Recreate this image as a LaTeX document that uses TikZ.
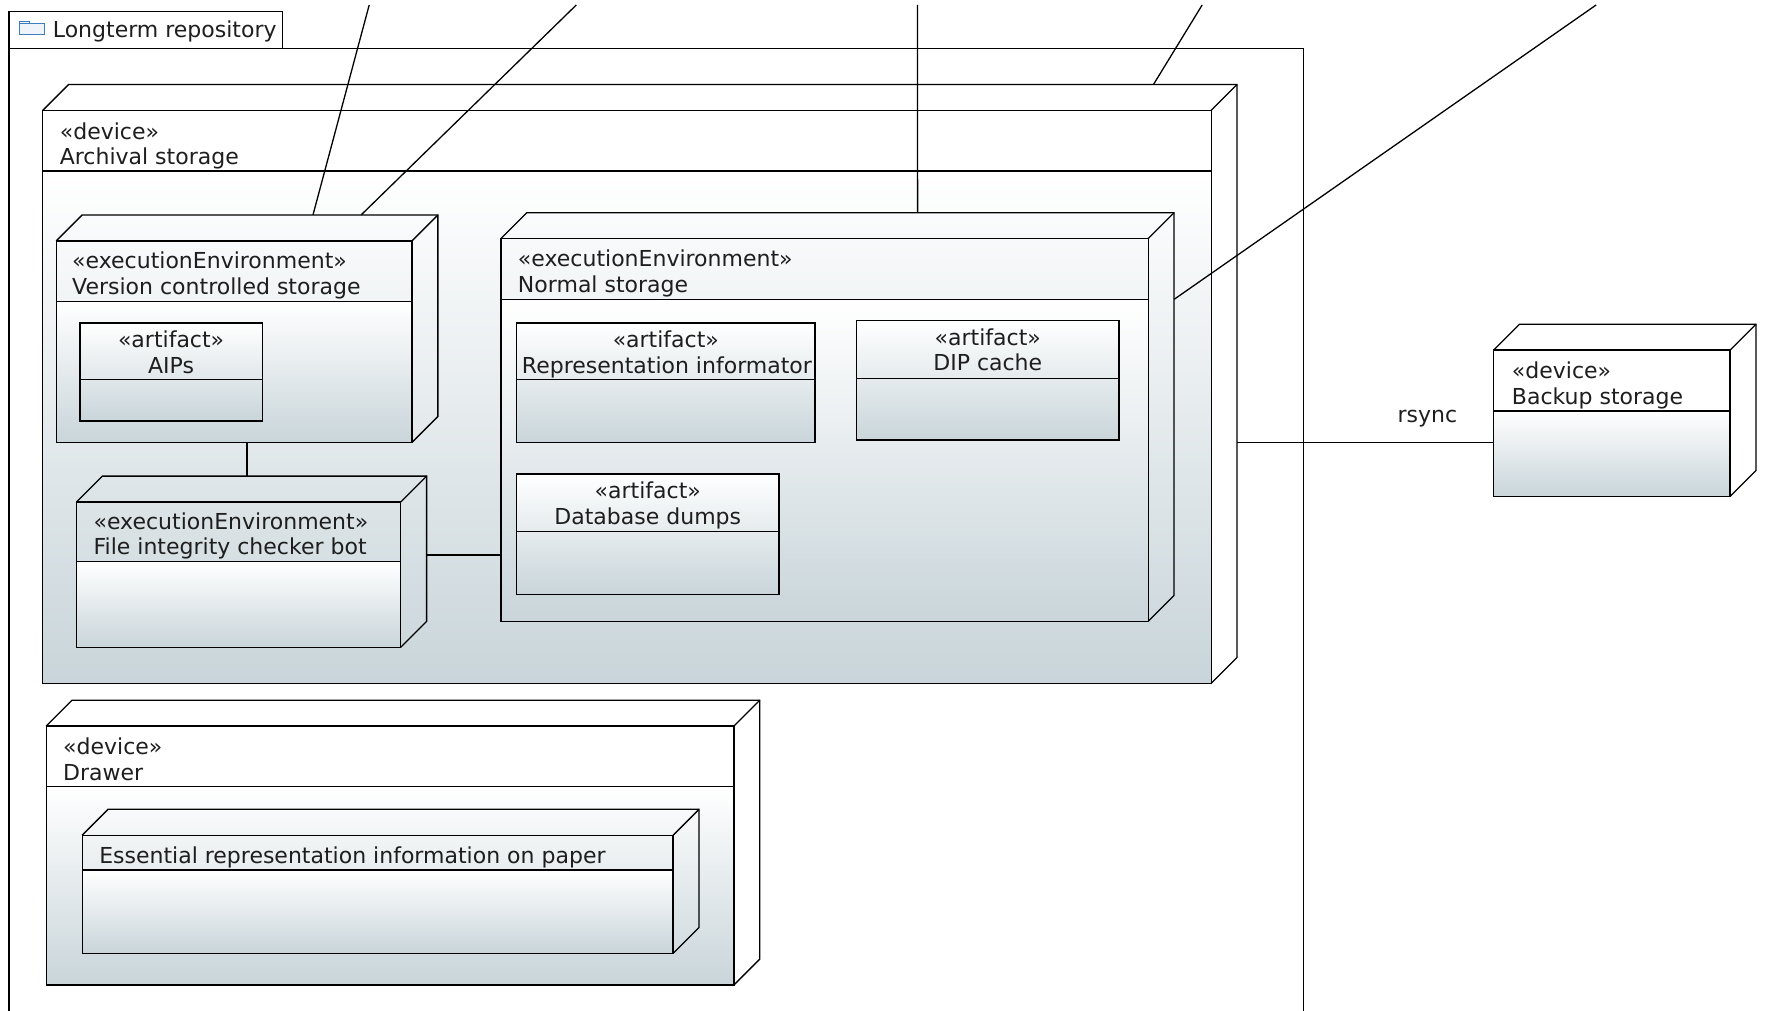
\documentclass[tikz,border=0pt]{standalone}
\usepackage{fontspec}
\setmainfont{DejaVu Sans}
\usetikzlibrary{fit,calc}
\definecolor{gbot}{HTML}{C9D5DA}
\definecolor{fold}{HTML}{3D7EC0}
\definecolor{foldfill}{HTML}{EEF4FA}
\definecolor{txt}{HTML}{1E1E1E}
\tikzset{
  ln/.style={line width=1.3pt, draw=black},
  lbl/.style={font=\fontsize{22}{26}\selectfont, inner sep=0pt, anchor=base west, text=txt},
  clbl/.style={lbl, anchor=base},
  hull/.style={inner sep=0pt, draw=none, fill=none},
}
\newcommand\umlnode[6]{%
  \shade[top color=white,bottom color=gbot] (#2,#6) rectangle (#4,#5);
  \draw[ln] (#2,#3) rectangle (#4,#5);
  \draw[ln] (#2,#3) -- (#2+23,#3-23) -- (#4+23,#3-23) -- (#4+23,#5-23) -- (#4,#5);
  \draw[ln] (#4,#3) -- (#4+23,#3-23);
  \draw[ln] (#2,#6) -- (#4,#6);
  \node[hull, fit={(#2,#3-23) (#4+23,#5)}] (#1) {};
}
\newcommand\umlartifact[6]{%
  \draw[ln, top color=white, bottom color=gbot] (#2,#3) rectangle (#4,#5);
  \draw[ln] (#2,#6) -- (#4,#6);
  \node[hull, fit={(#2,#3) (#4,#5)}] (#1) {};
}
\begin{document}
\begin{tikzpicture}[x=1.1257pt,y=-1.1257pt]
\useasboundingbox (0,0) rectangle (1568,898);
\clip (0,0) rectangle (1568,898);
\fill[white] (0,0) rectangle (1568,898);

% package frame
\draw[ln] (8,910) -- (8,43) -- (1158,43) -- (1158,910);
\draw[ln] (8,10) rectangle (251,43);
\node[hull, fit={(8,10) (1158,898)}] (repo) {};
\draw[fold, fill=foldfill, line width=1pt] (17.2,30.5) -- (17.2,18.7) -- (26,18.7) -- (26,21.2) -- (39.4,21.2) -- (39.4,30.5) -- cycle;
\draw[fold, line width=1pt] (17.2,21.2) -- (26,21.2);
\node[lbl] (repoT) at (46.8,33.5) {Longterm repository};

% Archival storage
\umlnode{arch}{38}{98}{1076}{607}{152}
\node[lbl] (archS) at (53,123.5) {«device»};
\node[lbl] (archN) at (53,146) {Archival storage};

% Version controlled storage
\umlnode{vcs}{50}{214}{366}{393}{268}
\node[lbl] (vcsS) at (64,238.5) {«executionEnvironment»};
\node[lbl] (vcsN) at (64,261.5) {Version controlled storage};
\umlartifact{aips}{71}{287}{233}{374}{337}
\node[clbl] (aipsS) at (152,308.5) {«artifact»};
\node[clbl] (aipsN) at (152,331.5) {AIPs};

% Normal storage
\umlnode{norm}{445}{212}{1020}{552}{266}
\node[lbl] (normS) at (460,237) {«executionEnvironment»};
\node[lbl] (normN) at (460,260) {Normal storage};
\umlartifact{rep}{459}{287}{724}{393}{337}
\node[clbl] (repS) at (591.5,308.5) {«artifact»};
\begin{scope}
\clip (459,287) rectangle (723.4,393);
\node[clbl] (repN) at (592.5,331.5) {Representation informator};
\end{scope}
\umlartifact{dip}{761}{285}{994}{391}{336}
\node[clbl] (dipS) at (877.5,306.5) {«artifact»};
\node[clbl] (dipN) at (877.5,329.5) {DIP cache};
\umlartifact{db}{459}{421}{692}{528}{472}
\node[clbl] (dbS) at (575.5,443) {«artifact»};
\node[clbl] (dbN) at (575.5,466) {Database dumps};

% File integrity checker bot
\umlnode{ficb}{68}{446}{356}{575}{499}
\node[lbl] (ficbS) at (83,470) {«executionEnvironment»};
\node[lbl] (ficbN) at (83,493) {File integrity checker bot};

% Drawer
\umlnode{drawer}{41}{645}{652}{875}{699}
\node[lbl] (drawerS) at (56,670) {«device»};
\node[lbl] (drawerN) at (56,693) {Drawer};
\umlnode{paper}{73}{742}{598}{847}{773}
\node[lbl] (paperN) at (88,767) {Essential representation information on paper};

% Backup storage
\umlnode{backup}{1327}{311}{1537}{441}{365}
\node[lbl] (backupS) at (1343,336) {«device»};
\node[lbl] (backupN) at (1343,359) {Backup storage};

% connectors
\coordinate (cA) at (0,493);
\coordinate (cB) at (0,393);
\draw[ln] (vcs.south) -- (ficb.north -| vcs.south);
\draw[ln] (ficb.east |- cA) -- (norm.west |- cA);
\draw[ln] (arch.east |- cB) -- (backup.west |- cB);
\node[clbl] (rsync) at (1268,375) {rsync};

\coordinate (t1) at (328,4.4);
\coordinate (t2) at (512,4.4);
\coordinate (t3) at (815,4.4);
\coordinate (t4) at (1068,4.4);
\coordinate (t5) at (1418,4.4);
\draw[ln] (t1) -- ($(vcs.north west)!0.6726!(vcs.north east)$);
\draw[ln] (t2) -- ($(vcs.north west)!0.799!(vcs.north east)$);
\draw[ln] (t3) -- ($(norm.north west)!0.619!(norm.north east)$);
\draw[ln] (t4) -- ($(arch.north west)!0.930!(arch.north east)$);
\draw[ln] (t5) -- ($(norm.north east)!0.212!(norm.south east)$);
\end{tikzpicture}
\end{document}
